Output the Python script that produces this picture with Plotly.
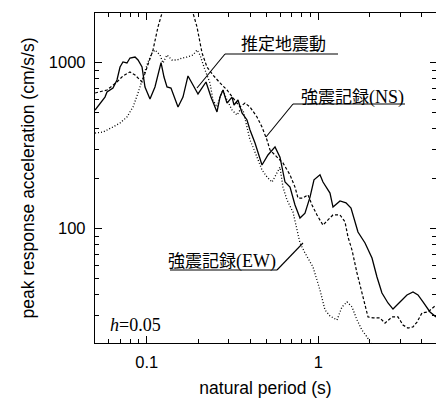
import plotly.graph_objects as go

# Peak response acceleration spectra (h = 0.05)
# 推定地震動 (estimated ground motion)
est_period = [0.0500, 0.0534, 0.0571, 0.0587, 0.0636, 0.0671, 0.0699, 0.0727, 0.0767, 0.0799,
              0.0855, 0.0890, 0.0939, 0.0977, 0.1045, 0.1117, 0.1212, 0.1261, 0.1313, 0.1385,
              0.1522, 0.1627, 0.1740, 0.1861, 0.1990, 0.2216, 0.2369, 0.2568, 0.2674, 0.2783,
              0.2937, 0.3141, 0.3227, 0.3404, 0.3592, 0.3841, 0.3999, 0.4277, 0.4697, 0.5090,
              0.5595, 0.5980, 0.6398, 0.6842, 0.7315, 0.7822, 0.8365, 0.8947, 0.9439, 1.023,
              1.065, 1.170, 1.218, 1.338, 1.450, 1.551, 1.703, 1.872, 2.056, 2.198,
              2.350, 2.548, 2.725, 2.993, 3.287, 3.564, 3.811, 4.076, 4.477, 4.853]
est_acc = [519, 571, 621, 666, 704, 787, 942, 1010, 996, 1067,
           1082, 1038, 942, 714, 604, 714, 1000, 820, 714, 704,
           541, 621, 832, 734, 648, 765, 621, 505, 621, 685,
           571, 621, 556, 596, 498, 452, 393, 328, 242, 278,
           311, 270, 191, 178, 139, 116, 124, 155, 197, 211,
           191, 164, 135, 147, 143, 133, 95.5, 82, 66.6, 51.2,
           41.0, 35.7, 32.8, 36.2, 39.9, 41.6, 39.9, 36.2, 31.5, 29.4]

# 強震記録(NS) (strong-motion record, NS component)
ns_period = [0.0500, 0.0587, 0.0671, 0.0727, 0.0799, 0.0855, 0.0939, 0.1004, 0.1088, 0.1163,
             0.1228, 0.135, 0.150, 0.165, 0.1861, 0.1964, 0.2101, 0.2245, 0.2433, 0.2674,
             0.2937, 0.3184, 0.3498, 0.3740, 0.3999, 0.4393, 0.4697, 0.5023, 0.5230, 0.5744,
             0.6224, 0.6842, 0.7315, 0.7615, 0.8143, 0.8709, 0.9190, 0.9826, 1.065, 1.139,
             1.218, 1.338, 1.431, 1.490, 1.572, 1.681, 1.797, 1.949, 2.084, 2.289,
             2.447, 2.689, 2.914, 3.116, 3.333, 3.564, 3.761, 4.021, 4.358, 4.853]
ns_acc = [657, 685, 765, 832, 879, 843, 765, 942, 1193, 1641,
          1992, 2450, 2700, 2450, 1992, 1641, 1144, 942, 843, 755,
          685, 613, 541, 571, 541, 471, 410, 342, 298, 270,
          249, 211, 178, 153, 153, 160, 139, 121, 105, 113,
          121, 121, 110, 89.1, 74.4, 54.1, 41.0, 29.4, 29.0, 29.0,
          27.0, 29.4, 29.4, 26.3, 25.2, 25.6, 27.4, 31.1, 31.5, 34.7]

# 強震記録(EW) (strong-motion record, EW component)
ew_period = [0.0500, 0.0556, 0.0636, 0.0699, 0.0767, 0.0832, 0.0890, 0.0952, 0.1017, 0.1073,
             0.1117, 0.1196, 0.1244, 0.1313, 0.1404, 0.1501, 0.1606, 0.1717, 0.1861, 0.1964,
             0.2044, 0.2186, 0.2338, 0.2433, 0.2568, 0.2674, 0.2783, 0.2937, 0.3141, 0.3360,
             0.3498, 0.3640, 0.3841, 0.3999, 0.4163, 0.4393, 0.4697, 0.5023, 0.5373, 0.5744,
             0.5980, 0.6224, 0.6570, 0.7120, 0.7510, 0.7822, 0.8365, 0.8947, 0.9314, 1.023,
             1.094, 1.170, 1.285, 1.374, 1.470, 1.572, 1.681, 1.797, 1.922, 2.056, 2.300]
ew_acc = [377, 382, 410, 433, 471, 541, 657, 820, 1010, 1144,
          1193, 1113, 996, 1113, 1038, 1038, 1067, 1082, 1113, 1193,
          1113, 904, 755, 596, 541, 621, 685, 596, 519, 484,
          519, 519, 410, 342, 311, 270, 226, 205, 191, 217,
          235, 178, 149, 126, 98.2, 82, 71.4, 63.0, 58.8, 42.7,
          32.4, 29.8, 28.2, 33.8, 36.2, 33.8, 28.2, 24.5, 22.3, 19.9, 17.0]

x_major = [0.1, 1]
x_major_text = ["0.1", "1"]
x_minor = [0.05, 0.06, 0.07, 0.08, 0.09, 0.2, 0.3, 0.4, 0.5, 0.6, 0.7, 0.8, 0.9, 2, 3, 4]
y_major = [100, 1000]
y_major_text = ["100", "1000"]
y_minor = [20, 30, 40, 50, 60, 70, 80, 90, 200, 300, 400, 500, 600, 700, 800, 900, 2000]

W, H = 436, 402
ML, MR, MT, MB = 95, 0, 13, 59
PW, PH = W - ML - MR, H - MT - MB

SANS = "Liberation Sans, Arial, sans-serif"
SERIF = "Liberation Serif, Times New Roman, serif"
CJK = "Noto Sans CJK JP, sans-serif"


def px(x):
    return (x - ML) / PW


def py(y):
    return (H - MB - y) / PH


fig = go.Figure()
fig.add_trace(go.Scatter(x=est_period, y=est_acc, mode="lines",
                         line=dict(color="black", width=1.3, dash="solid"),
                         name="推定地震動", showlegend=False))
fig.add_trace(go.Scatter(x=ns_period, y=ns_acc, mode="lines",
                         line=dict(color="black", width=1.2, dash="3px,2px"),
                         name="強震記録(NS)", showlegend=False))
fig.add_trace(go.Scatter(x=ew_period, y=ew_acc, mode="lines",
                         line=dict(color="black", width=1.3, dash="1px,2px"),
                         name="強震記録(EW)", showlegend=False))
# empty trace that carries the right-hand tick axis
fig.add_trace(go.Scatter(x=[None], y=[None], yaxis="y2", mode="lines",
                         showlegend=False, hoverinfo="skip"))

x_lo, x_hi = -1.3014, 0.686
y_lo, y_hi = 1.3115, 3.2994

axis_common = dict(showgrid=False, zeroline=False, ticks="inside", ticklen=7,
                   tickwidth=1, tickcolor="black", linecolor="black", linewidth=1.3)

fig.update_layout(
    width=W, height=H,
    margin=dict(l=ML, r=MR, t=MT, b=MB, pad=0),
    paper_bgcolor="white", plot_bgcolor="white",
    font=dict(family=SANS, size=16.5, color="black"),
    xaxis=dict(type="log", range=[x_lo, x_hi], tickmode="array",
               tickvals=x_major, ticktext=x_major_text, showline=True, mirror="ticks",
               minor=dict(tickmode="array", tickvals=x_minor, ticks="inside",
                          ticklen=4, tickcolor="black", showgrid=False),
               tickfont=dict(family=SANS, size=16.5), ticklabelstandoff=4,
               title=dict(text="natural period (s)", font=dict(family=SANS, size=17.5),
                          standoff=11),
               **axis_common),
    yaxis=dict(type="log", range=[y_lo, y_hi], tickmode="array",
               tickvals=y_major, ticktext=y_major_text, showline=True, mirror=False,
               minor=dict(tickmode="array", tickvals=y_minor, ticks="inside",
                          ticklen=4, tickcolor="black", showgrid=False),
               tickfont=dict(family=SANS, size=16.5), ticklabelstandoff=5,
               title=dict(text="peak response acceleration (cm/s/s)",
                          font=dict(family=SANS, size=17.5), standoff=9),
               **axis_common),
    yaxis2=dict(type="log", range=[y_lo, y_hi], overlaying="y", side="right",
                anchor="x", tickmode="array", tickvals=y_major, showticklabels=False,
                showline=False, showgrid=False, zeroline=False, ticks="inside",
                ticklen=6, tickcolor="black",
                minor=dict(tickmode="array", tickvals=y_minor, ticks="inside",
                           ticklen=4, tickcolor="black", showgrid=False)),
)

# labels with underline and leader line to their curve
ROMAN = "<span style=\"font-family:Liberation Serif, serif; font-size:18px\">{}</span>"
labels = [
    dict(text="推定地震動", tx=283, ty=42, u0=225, u1=338, uy=54, lx=197, ly=88, ux=225),
    dict(text="強震記録" + ROMAN.format("(NS)"),
         tx=352, ty=96, u0=293, u1=405, uy=104, lx=266, ly=137, ux=293),
    dict(text="強震記録" + ROMAN.format("(EW)"),
         tx=222, ty=259, u0=170, u1=277, uy=270, lx=303, ly=243, ux=277),
]
for lab in labels:
    fig.add_annotation(x=px(lab["tx"]), y=py(lab["ty"]), xref="paper", yref="paper",
                       text=lab["text"], showarrow=False, xanchor="center", yanchor="middle",
                       font=dict(family=CJK, size=17, color="black"))
    fig.add_shape(type="line", xref="paper", yref="paper",
                  x0=px(lab["u0"]), x1=px(lab["u1"]), y0=py(lab["uy"]), y1=py(lab["uy"]),
                  line=dict(color="black", width=1.1))
    fig.add_shape(type="line", xref="paper", yref="paper",
                  x0=px(lab["ux"]), x1=px(lab["lx"]), y0=py(lab["uy"]), y1=py(lab["ly"]),
                  line=dict(color="black", width=1.1))

fig.add_annotation(x=px(108), y=py(325), xref="paper", yref="paper",
                   text="<i>h</i>=0.05", showarrow=False, xanchor="left", yanchor="middle",
                   font=dict(family=SERIF, size=18, color="black"))

fig.write_html("out.html")
